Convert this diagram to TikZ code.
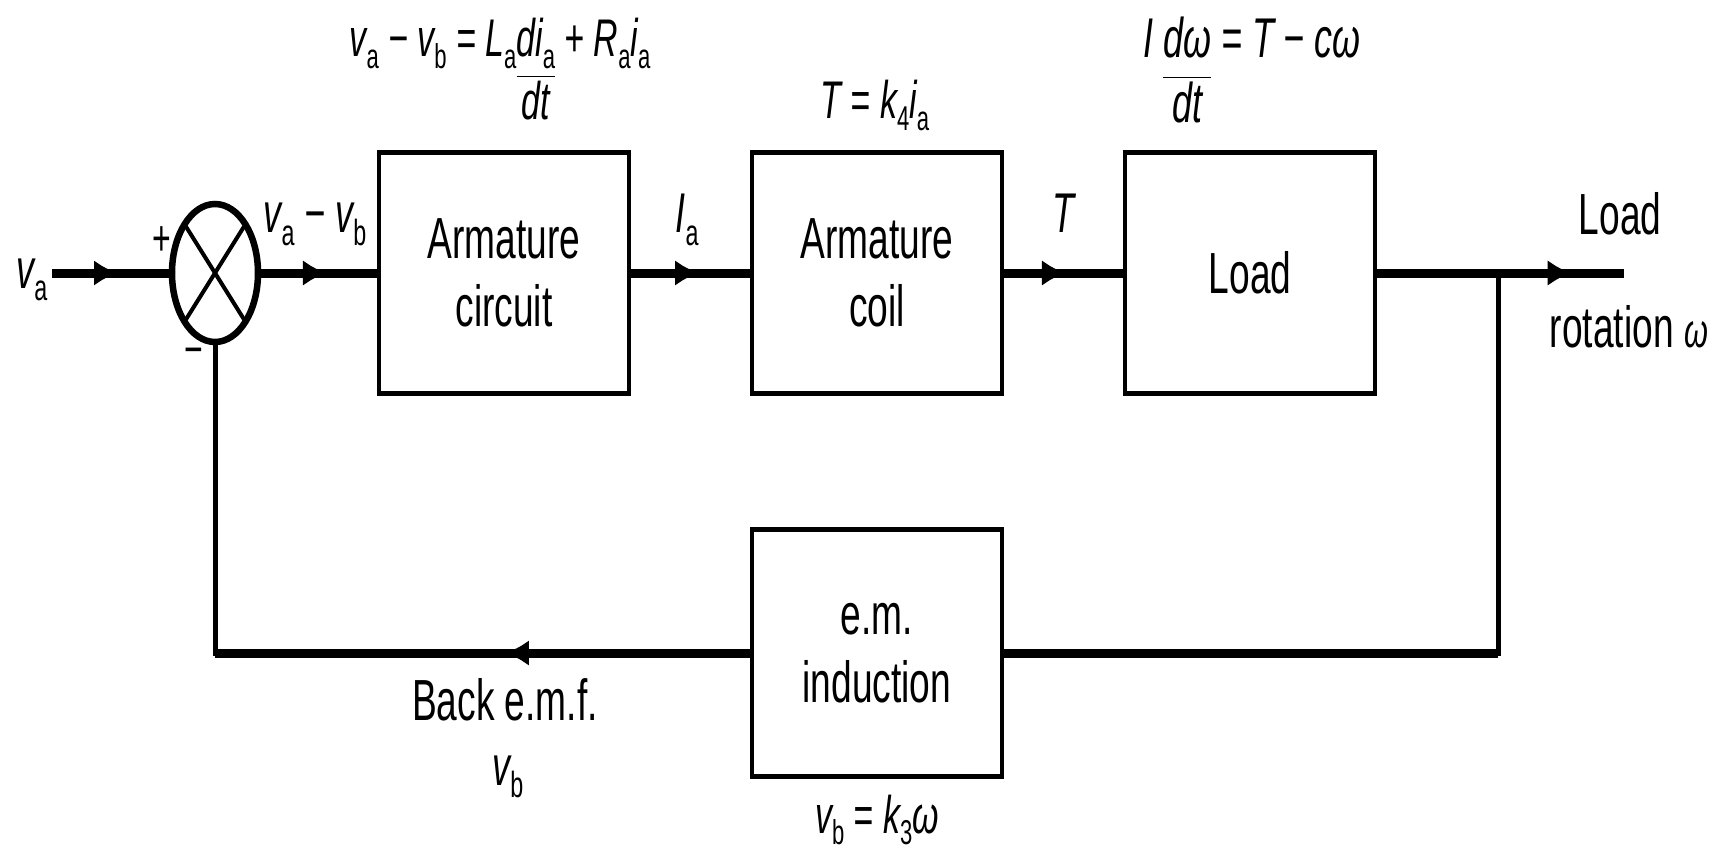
\documentclass[tikz,border=0pt]{standalone}
\usepackage{fontspec}
\setmainfont{Liberation Sans}[FakeStretch=0.64]
\usepackage{graphicx}
\usetikzlibrary{shapes.geometric,arrows.meta,decorations.markings}
\newcommand{\lowsub}[1]{\raisebox{-0.22em}{\scalebox{0.65}{\upshape #1}}}
\newcommand{\vfrac}[2]{\begin{tabular}[t]{@{}c@{}}#1\\\hline #2\end{tabular}}
\begin{document}
\begin{tikzpicture}[x=1pt,y=-1pt,
  sig/.style={line width=9pt},
  thinline/.style={line width=5pt, line cap=rect},
  blk/.style={draw, line width=4.5pt, minimum width=250pt, minimum height=241pt,
    inner sep=0pt, outer sep=0pt, align=center, font=\fontsize{58}{68}\selectfont},
  lbl/.style={inner sep=0pt, anchor=base, font=\fontsize{56}{64}\selectfont\itshape},
  eq/.style={inner sep=0pt, anchor=base, font=\fontsize{53}{62}\selectfont\itshape},
  txt/.style={inner sep=0pt, anchor=base, font=\fontsize{58}{68}\selectfont},
  sgn/.style={inner sep=0pt, font=\fontsize{50}{60}\selectfont},
  midarr/.style={postaction={decorate}, decoration={markings,
    mark=at position #1 with {\arrow{Latex[length=24pt,width=26pt]}}}}
]
\useasboundingbox (0,0) rectangle (1711,853);

% summing junction
\node[draw, ellipse, line width=6.5pt, minimum width=86pt, minimum height=138pt,
  inner sep=0pt, outer sep=0pt] (sum) at (215,273) {};
\draw[line width=4pt] (sum.58) -- (sum.238);
\draw[line width=4pt] (sum.122) -- (sum.302);

% blocks
\node[blk] (ac) at (504,273) {Armature\\circuit};
\node[blk] (coil) at (877,273) {Armature\\coil};
\node[blk] (load) at (1250,273) {Load};
\node[blk, minimum height=247pt] (em) at (877,653) {e.m.\\induction};

% coordinates
\coordinate (in) at (52,273);
\coordinate (br) at (1498,273);
\coordinate (out) at (1624,273);
\coordinate (fbr) at (1498,653);
\coordinate (fbl) at (215,653);

% connectors
\draw[sig, midarr=0.55] (in) -- (sum.west);
\draw[sig, midarr=0.57] (sum.east) -- (ac.west);
\draw[sig, midarr=0.57] (ac.east) -- (coil.west);
\draw[sig, midarr=0.52] (coil.east) -- (load.west);
\draw[sig, midarr=0.79] (load.east) -- (out);
\draw[thinline] (br) -- (fbr);
\draw[sig] (fbr) -- (em.east);
\draw[sig, midarr=0.46] (em.west) -- (fbl);
\draw[thinline] (fbl) -- (sum.south);

% labels
\node[lbl] (va) at (32,288) {v\lowsub{a}};
\node[sgn] (plus) at (162,241) {+};
\node[sgn] (minus) at (194,357) {−};
\node[lbl] (vavb) at (315,233) {v\lowsub{a} − v\lowsub{b}};
\node[lbl] (ia) at (687,233) {I\lowsub{a}};
\node[lbl] (tl) at (1063,233) {T};
\node[txt] (lo1) at (1620,235) {Load};
\node[txt] (lo2) at (1629,347) {rotation {\fontsize{48}{50}\selectfont\itshape ω}};
\node[txt] (bemf) at (505,720) {Back e.m.f.};
\node[lbl] (vb) at (508,785) {v\lowsub{b}};

% equations
\node[eq] (eq1) at (500,57) {v\lowsub{a} − v\lowsub{b} = L\lowsub{a}\vfrac{di\lowsub{a}}{dt} + R\lowsub{a}i\lowsub{a}};
\node[eq, font=\fontsize{56}{64}\selectfont\itshape] (eq2) at (1252,58) {I \vfrac{dω}{dt} = T − cω};
\node[eq] (eq4) at (875,119) {T = k\lowsub{4}i\lowsub{a}};
\node[eq] (eq3) at (877,833) {v\lowsub{b} = k\lowsub{3}ω};
\end{tikzpicture}
\end{document}
